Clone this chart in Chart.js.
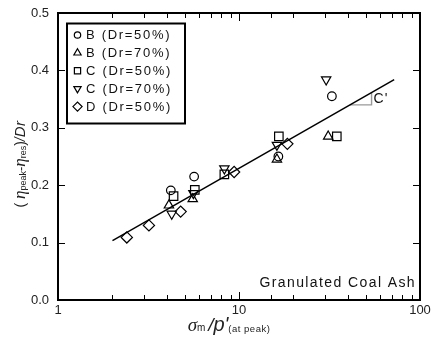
<!DOCTYPE html>
<html>
<head>
<meta charset="utf-8">
<script src="https://cdn.jsdelivr.net/npm/chart.js@4.4.0/dist/chart.umd.min.js"></script>
<style>
html, body { margin: 0; padding: 0; background: #fff; }
</style>
</head>
<body>
<canvas id="chart" width="434" height="337"></canvas>
<script>
// series (x = sigma_m / p' at peak, y = (eta_peak - eta_res) / Dr)
var labels = ['B (Dr=50%)', 'B (Dr=70%)', 'C (Dr=50%)', 'C (Dr=70%)', 'D (Dr=50%)'];

var b50X = [4.2, 5.65, 16.5, 32.6];
var b50Y = [0.191, 0.215, 0.250, 0.355];
var b70X = [4.1, 5.55, 16.2, 31.1];
var b70Y = [0.165, 0.176, 0.245, 0.285];
var c50X = [4.35, 5.7, 8.3, 16.6, 34.7];
var c50Y = [0.181, 0.192, 0.219, 0.285, 0.285];
var c70X = [4.25, 5.6, 8.3, 16.2, 30.3];
var c70Y = [0.150, 0.186, 0.229, 0.270, 0.384];
var d50X = [2.4, 3.18, 4.76, 9.4, 18.5];
var d50Y = [0.109, 0.130, 0.154, 0.223, 0.272];

// fitted line and the C' slope triangle
var fitX = [2, 72];
var fitY = [0.1035, 0.384];
var slopeX = [41, 54, 54];
var slopeY = [0.340, 0.340, 0.361];

var xTickLabels = [1, 10, 100];

function pts(xs, ys) {
    return xs.map(function (x, i) { return { x: x, y: ys[i] }; });
}

var markers = [
    { pointStyle: 'circle', rotation: 0, radius: 4.3, legendRadius: 3.2 },
    { pointStyle: 'triangle', rotation: 0, radius: 5.4, legendRadius: 4.2 },
    { pointStyle: 'rect', rotation: 0, radius: 6, legendRadius: 4.4 },
    { pointStyle: 'triangle', rotation: 180, radius: 5.4, legendRadius: 4.2 },
    { pointStyle: 'rectRot', rotation: 0, radius: 5.6, legendRadius: 4.6 }
];

var seriesX = [b50X, b70X, c50X, c70X, d50X];
var seriesY = [b50Y, b70Y, c50Y, c70Y, d50Y];

var datasets = labels.map(function (name, i) {
    var m = markers[i];
    return {
        label: name,
        data: pts(seriesX[i], seriesY[i]),
        pointStyle: m.pointStyle,
        rotation: m.rotation,
        radius: m.radius,
        hoverRadius: m.radius,
        borderColor: '#000',
        backgroundColor: 'rgba(0,0,0,0)',
        borderWidth: 1.2,
        showLine: false
    };
});

datasets.push({
    label: 'fit',
    data: pts(fitX, fitY),
    showLine: true,
    borderColor: '#000',
    borderWidth: 1.5,
    pointRadius: 0
});
datasets.push({
    label: 'slope',
    data: pts(slopeX, slopeY),
    showLine: true,
    borderColor: '#999',
    borderWidth: 1.4,
    pointRadius: 0
});

var SANS = "'Liberation Sans', Arial, sans-serif";
var SERIF = "'Liberation Serif', 'Times New Roman', serif";

function drawRich(ctx, segs, cx, y) {
    var w = 0;
    segs.forEach(function (s) {
        ctx.font = s.font;
        ctx.letterSpacing = (s.ls || 0) + 'px';
        s.w = ctx.measureText(s.t).width;
        w += s.w;
    });
    var x = cx - w / 2;
    segs.forEach(function (s) {
        ctx.font = s.font;
        ctx.letterSpacing = (s.ls || 0) + 'px';
        ctx.fillText(s.t, x, y + (s.dy || 0));
        x += s.w;
    });
    ctx.letterSpacing = '0px';
}

var decor = {
    id: 'decor',
    afterDraw: function (chart) {
        var ctx = chart.ctx, a = chart.chartArea;
        var xs = chart.scales.x, ys = chart.scales.y;
        ctx.save();
        ctx.strokeStyle = '#000';
        ctx.lineWidth = 1;
        ctx.beginPath();
        xs.ticks.forEach(function (t) {
            var px = Math.round(xs.getPixelForValue(t.value)) + 0.5;
            var len = xTickLabels.indexOf(t.value) >= 0 ? 8 : 5;
            ctx.moveTo(px, a.bottom); ctx.lineTo(px, a.bottom - len);
            ctx.moveTo(px, a.top); ctx.lineTo(px, a.top + len);
        });
        ys.ticks.forEach(function (t) {
            var py = Math.round(ys.getPixelForValue(t.value)) + 0.5;
            ctx.moveTo(a.left, py); ctx.lineTo(a.left + 7, py);
            ctx.moveTo(a.right, py); ctx.lineTo(a.right - 7, py);
        });
        ctx.stroke();
        ctx.lineWidth = 2;
        ctx.strokeRect(a.left, a.top, a.right - a.left, a.bottom - a.top);

        // legend box
        var lx = a.left + 9, ly = a.top + 10.5;
        ctx.fillStyle = '#fff';
        ctx.fillRect(lx, ly, 118, 100);
        ctx.strokeRect(lx, ly, 118, 100);
        ctx.textBaseline = 'middle';
        ctx.textAlign = 'left';
        labels.forEach(function (name, i) {
            var yy = ly + 11.5 + i * 17.9;
            var m = markers[i];
            ctx.lineWidth = 1.2;
            ctx.strokeStyle = '#000';
            ctx.fillStyle = 'rgba(0,0,0,0)';
            Chart.helpers.drawPoint(ctx, {
                pointStyle: m.pointStyle, rotation: m.rotation,
                radius: m.legendRadius, borderWidth: 1.2
            }, lx + 10.5, yy);
            ctx.fillStyle = '#111';
            ctx.font = '13px ' + SANS;
            ctx.letterSpacing = '1.7px';
            ctx.fillText(name, lx + 19, yy + 0.5);
            ctx.letterSpacing = '0px';
        });

        // annotations
        ctx.textBaseline = 'alphabetic';
        ctx.font = '14px ' + SANS;
        ctx.letterSpacing = '1px';
        ctx.fillText("C'", xs.getPixelForValue(slopeX[1]) + 2, ys.getPixelForValue(0.352) + 5);
        ctx.textAlign = 'right';
        ctx.letterSpacing = '1.4px';
        ctx.fillText('Granulated Coal Ash', a.right - 4, a.bottom - 13);
        ctx.letterSpacing = '0px';
        ctx.textAlign = 'left';

        // x axis title
        ctx.fillStyle = '#222';
        drawRich(ctx, [
            { t: '\u03C3', font: 'italic 19px ' + SERIF },
            { t: 'm ', font: '10px ' + SANS, dy: 0 },
            { t: '/', font: 'italic 19px ' + SANS },
            { t: "p'", font: 'italic 20px ' + SANS },
            { t: '(at peak)', font: '9.5px ' + SANS, ls: 0.5, dy: 1 }
        ], (a.left + a.right) / 2 - 10, 331);

        // y axis title (rotated)
        ctx.translate(25, 164);
        ctx.rotate(-Math.PI / 2);
        drawRich(ctx, [
            { t: '( ', font: '14px ' + SANS },
            { t: '\u03B7', font: 'italic 17px ' + SERIF },
            { t: 'peak', font: '9px ' + SANS, dy: 1 },
            { t: '-', font: '13px ' + SANS },
            { t: '\u03B7', font: 'italic 17px ' + SERIF },
            { t: 'res', font: '9px ' + SANS, dy: 1 },
            { t: ')', font: '14px ' + SANS },
            { t: '/', font: 'italic 14px ' + SANS },
            { t: 'Dr', font: 'italic 15px ' + SANS, ls: 0.5 }
        ], 0, 0);
        ctx.restore();
    }
};

var ctx = document.getElementById('chart');

var chart = new Chart(ctx, {
    type: 'scatter',
    data: { datasets: datasets },
    options: {
        responsive: false,
        animation: false,
        layout: { autoPadding: false, padding: { left: 0, right: 14, top: 13, bottom: 0 } },
        plugins: {
            legend: { display: false },
            tooltip: { enabled: false }
        },
        scales: {
            x: {
                type: 'logarithmic',
                min: 1,
                max: 100,
                grid: { display: false, drawTicks: false },
                border: { display: false },
                ticks: {
                    autoSkip: false,
                    maxRotation: 0,
                    padding: 3,
                    color: '#222',
                    font: { family: SANS, size: 13 },
                    callback: function (v) {
                        return xTickLabels.indexOf(v) >= 0 ? String(v) : '';
                    }
                },
                afterFit: function (s) {
                    s.height = 37;
                    s.paddingLeft = 0;
                    s.paddingRight = 0;
                }
            },
            y: {
                min: 0,
                max: 0.5,
                grid: { display: false, drawTicks: false },
                border: { display: false },
                ticks: {
                    stepSize: 0.1,
                    padding: 9,
                    color: '#222',
                    font: { family: SANS, size: 13 },
                    callback: function (v) { return v.toFixed(1); }
                },
                afterFit: function (s) {
                    s.width = 58;
                    s.paddingTop = 0;
                    s.paddingBottom = 0;
                }
            }
        }
    },
    plugins: [decor]
});
</script>
</body>
</html>
